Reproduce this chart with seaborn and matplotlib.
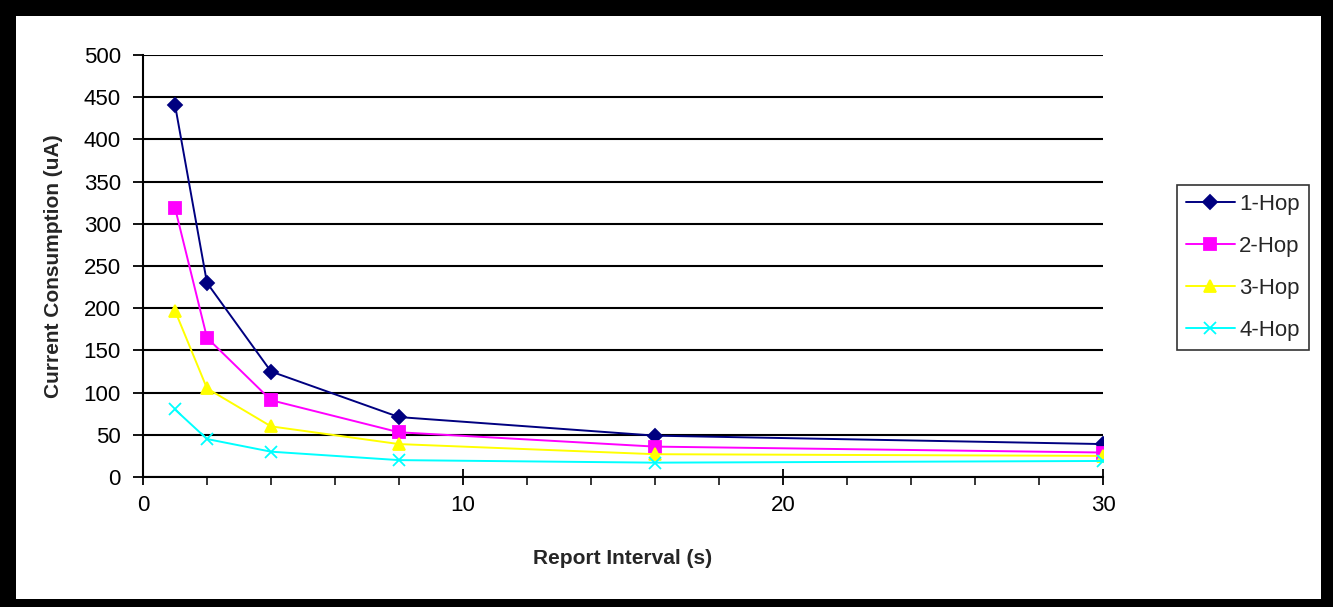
import pandas as pd
import matplotlib
matplotlib.use('Agg')
import matplotlib.pyplot as plt
import seaborn as sns
from matplotlib.patches import Rectangle
from matplotlib.ticker import MultipleLocator

# report interval (s) and current consumption (uA) per hop count
intervals = [1, 2, 4, 8, 16, 30]
hop1 = [441, 230, 125, 71, 49, 39]
hop2 = [319, 165, 91, 53, 36, 29]
hop3 = [197, 105, 60, 39, 27, 25]
hop4 = [80, 45, 30, 20, 17, 19]
series_names = ['1-Hop', '2-Hop', '3-Hop', '4-Hop']
colors = ['#000080', '#FF00FF', '#FFFF00', '#00FFFF']
markers = ['D', 's', '^', 'x']
msizes = [7, 8, 8, 9]

sns.set_style('white')
plt.rcParams['font.family'] = ['Liberation Sans', 'DejaVu Sans']

W, H = 1333, 607
fig = plt.figure(figsize=(W / 100, H / 100), dpi=100, facecolor='black')
# white card inside the thick black frame
fig.add_artist(Rectangle((16 / W, 8 / H), (1321 - 16) / W, (591 - 8) / H,
                         transform=fig.transFigure, facecolor='white',
                         edgecolor='none', zorder=-10))

ax = fig.add_axes([143 / W, 1 - 477 / H, (1103 - 143) / W, (477 - 55) / H])
ax.set_facecolor('white')

for vals, name, c, m, ms in zip([hop1, hop2, hop3, hop4], series_names,
                                colors, markers, msizes):
    sns.lineplot(x=intervals, y=vals, color=c, marker=m, markersize=ms,
                 markeredgecolor=c, markerfacecolor=c, markeredgewidth=1.3,
                 linewidth=1.4, label=name, ax=ax, zorder=3)

ax.set_xlim(0, 30)
ax.set_ylim(0, 500)
ax.yaxis.set_major_locator(MultipleLocator(50))
ax.xaxis.set_major_locator(MultipleLocator(10))
ax.xaxis.set_minor_locator(MultipleLocator(2))
ax.grid(axis='y', color='black', linewidth=1.5)
ax.set_axisbelow(True)

for s in ['top', 'right']:
    ax.spines[s].set_visible(False)
for s in ['left', 'bottom']:
    ax.spines[s].set_color('black')
    ax.spines[s].set_linewidth(1.5)

ax.tick_params(axis='y', direction='out', length=7, width=1.3, labelsize=16,
               pad=9, colors='black', left=True)
ax.tick_params(axis='x', which='major', direction='inout', length=12, width=1.3,
               labelsize=16, pad=7, colors='black', bottom=True)
ax.tick_params(axis='x', which='minor', direction='out', length=6, width=1.3,
               bottom=True)

ax.set_xlabel('Report Interval (s)', fontsize=15, fontweight='bold', labelpad=24)
ax.set_ylabel('Current Consumption (uA)', fontsize=15, fontweight='bold', labelpad=15)

leg = ax.legend(loc='upper left', bbox_to_anchor=(1177 / W, 1 - 185 / H),
                bbox_transform=fig.transFigure, borderaxespad=0, fontsize=16,
                frameon=True, fancybox=False, edgecolor='black',
                handlelength=2.2, handletextpad=0.2, labelspacing=0.95,
                borderpad=0.4)
leg.get_frame().set_linewidth(1.2)

fig.savefig('out.png', dpi=100, facecolor='black')
